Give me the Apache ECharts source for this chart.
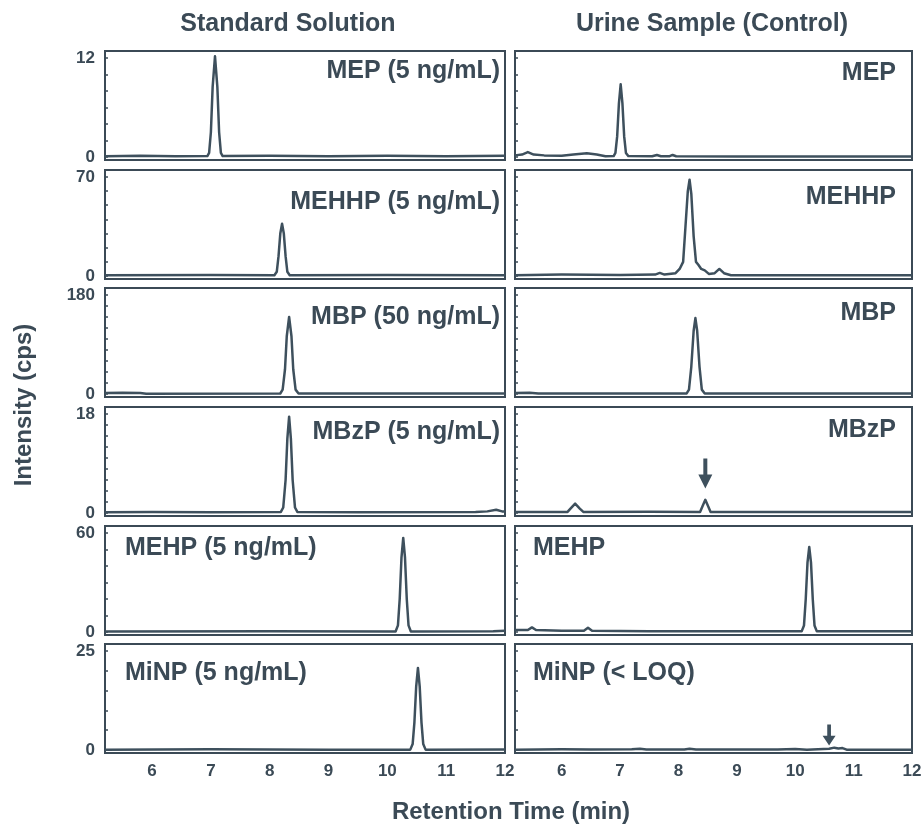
<!DOCTYPE html>
<html>
<head>
<meta charset="utf-8">
<script src="https://cdn.jsdelivr.net/npm/echarts@6/dist/echarts.min.js"></script>
<style>
  html, body { margin: 0; padding: 0; background: #fff; }
  #chart { width: 922px; height: 827px; }
</style>
</head>
<body>
<div id="chart"></div>
<script>
// retention time axis
const xTicks = [6, 7, 8, 9, 10, 11, 12]
const xMin = 5.2
const xMax = 12

// per row: full scale of intensity (cps) and minor tick step
const yMax = [12, 70, 180, 18, 60, 25]
const yTickStep = [2, 10, 20, 2, 10, 5]

const stdLabels = ['MEP (5 ng/mL)', 'MEHHP (5 ng/mL)', 'MBP (50 ng/mL)', 'MBzP (5 ng/mL)', 'MEHP (5 ng/mL)', 'MiNP (5 ng/mL)']
const urineLabels = ['MEP', 'MEHHP', 'MBP', 'MBzP', 'MEHP', 'MiNP (< LOQ)']

// chromatogram traces, [time (min), intensity (cps)]
const stdMEP = [[5.2, 0.1], [5.8, 0.15], [6.4, 0.1], [6.94, 0.12], [6.97, 0.5], [7.0, 3], [7.03, 8.5], [7.07, 12.2], [7.11, 8.5], [7.14, 3], [7.17, 0.5], [7.2, 0.12], [8.0, 0.15], [9.0, 0.1], [10.0, 0.15], [11.0, 0.1], [12, 0.15]]
const stdMEHHP = [[5.2, 0.5], [7.0, 0.7], [8.08, 0.6], [8.12, 3], [8.15, 14], [8.18, 30], [8.21, 37], [8.24, 30], [8.27, 14], [8.3, 3], [8.34, 0.6], [10.0, 0.7], [12, 0.6]]
const stdMBP = [[5.2, 2], [5.5, 2.5], [5.8, 2], [5.9, 0.6], [8.18, 1], [8.22, 8], [8.26, 45], [8.29, 105], [8.33, 140], [8.37, 105], [8.4, 45], [8.44, 8], [8.49, 1], [12, 1]]
const stdMBzP = [[5.2, 0.15], [6, 0.2], [7, 0.15], [8.19, 0.2], [8.23, 1], [8.27, 6], [8.3, 13.5], [8.33, 17.5], [8.36, 13.5], [8.39, 6], [8.43, 1], [8.47, 0.2], [9.5, 0.15], [11.5, 0.2], [11.7, 0.3], [11.85, 0.6], [11.95, 0.3], [12, 0.3]]
const stdMEHP = [[5.2, 0.3], [8.0, 0.4], [10.14, 0.3], [10.18, 4], [10.21, 20], [10.24, 45], [10.27, 57], [10.3, 45], [10.33, 20], [10.36, 4], [10.4, 0.3], [11.8, 0.5], [12, 0.8]]
const stdMiNP = [[5.2, 0.1], [7, 0.2], [9, 0.1], [10.39, 0.1], [10.43, 1.5], [10.46, 7], [10.49, 16], [10.52, 20.7], [10.55, 16], [10.58, 7], [10.61, 1.5], [10.65, 0.1], [12, 0.15]]

const urineMEP = [[5.2, 0.2], [5.32, 0.3], [5.42, 0.6], [5.52, 0.3], [5.7, 0.2], [6.0, 0.15], [6.2, 0.3], [6.43, 0.45], [6.6, 0.3], [6.75, 0.1], [6.89, 0.12], [6.92, 0.5], [6.95, 2.5], [6.98, 6.5], [7.01, 8.8], [7.04, 6.5], [7.07, 2.5], [7.1, 0.5], [7.14, 0.12], [7.55, 0.1], [7.63, 0.25], [7.7, 0.1], [7.85, 0.1], [7.9, 0.25], [7.96, 0.1], [9, 0.05], [12, 0.05]]
const urineMEHHP = [[5.2, 0.5], [6, 1], [7, 0.8], [7.6, 1], [7.68, 2.2], [7.76, 1], [7.95, 2], [8.02, 5], [8.08, 10], [8.12, 35], [8.16, 60], [8.19, 68], [8.22, 58], [8.26, 28], [8.3, 10], [8.34, 8], [8.39, 5], [8.45, 4], [8.52, 1.5], [8.62, 2], [8.7, 5], [8.78, 2], [8.9, 0.5], [12, 0.5]]
const urineMBP = [[5.2, 2], [5.45, 2.5], [5.6, 1], [8.14, 1], [8.18, 8], [8.22, 50], [8.26, 115], [8.29, 138], [8.32, 115], [8.36, 50], [8.4, 8], [8.45, 1], [12, 1]]
const urineMBzP = [[5.2, 0.2], [6.1, 0.2], [6.15, 0.8], [6.23, 1.7], [6.31, 0.8], [6.37, 0.2], [7.5, 0.25], [8.37, 0.2], [8.41, 1.2], [8.46, 2.4], [8.51, 1.2], [8.55, 0.2], [12, 0.2]]
const urineMEHP = [[5.2, 1.2], [5.42, 1.2], [5.49, 2.8], [5.56, 1.2], [6, 0.8], [6.38, 0.8], [6.45, 2.6], [6.52, 0.8], [7.5, 0.4], [10.11, 0.4], [10.15, 4], [10.18, 20], [10.21, 42], [10.24, 51.5], [10.27, 42], [10.3, 20], [10.33, 4], [10.37, 0.4], [12, 0.4]]
const urineMiNP = [[5.2, 0.1], [6, 0.2], [6.5, 0.15], [7.2, 0.2], [7.34, 0.35], [7.45, 0.15], [8.1, 0.15], [8.19, 0.35], [8.3, 0.12], [9.7, 0.15], [10.0, 0.25], [10.2, 0.1], [10.58, 0.3], [10.67, 0.6], [10.74, 0.4], [10.81, 0.5], [10.88, 0.1], [12, 0.1]]

// arrows in the urine column: [row, time, intensity]
const urineArrows = [[3, 8.46, 7.2], [5, 10.58, 3.8]]

const stdSeries = [stdMEP, stdMEHHP, stdMBP, stdMBzP, stdMEHP, stdMiNP]
const urineSeries = [urineMEP, urineMEHHP, urineMBP, urineMBzP, urineMEHP, urineMiNP]

const ink = '#3b4a56'
const lineColor = '#3e505d'
const font = '"Liberation Sans", Arial, sans-serif'

const rowTop = [51, 170, 288, 407, 526, 644]
const rowH = 109
const cols = [{ left: 105, width: 400 }, { left: 515, width: 397 }]
// label centre heights
const stdLabelY = [71, 202, 317, 432, 548, 673]
const urineLabelY = [73, 197, 313, 430, 548, 673]

const chart = echarts.init(document.getElementById('chart'))

const grid = []
const xAxis = []
const yAxis = []
const series = []
const graphic = []

cols.forEach((col, c) => {
    rowTop.forEach((top, r) => {
        const idx = grid.length
        grid.push({
            left: col.left,
            top: top,
            width: col.width,
            height: rowH,
            show: true,
            borderColor: ink,
            borderWidth: 2,
            backgroundColor: '#fff',
            outerBoundsMode: 'none'
        })
        const isBottom = r === rowTop.length - 1
        xAxis.push({
            type: 'value',
            gridIndex: idx,
            min: xMin,
            max: xMax,
            splitLine: { show: false },
            axisLine: { show: false },
            axisTick: { show: false },
            axisLabel: {
                show: isBottom,
                customValues: xTicks,
                color: ink,
                fontFamily: font,
                fontWeight: 'bold',
                fontSize: 17,
                margin: 10
            }
        })
        const ticks = []
        for (let v = 0; v <= yMax[r]; v += yTickStep[r]) ticks.push(v)
        yAxis.push({
            type: 'value',
            gridIndex: idx,
            min: -0.03 * yMax[r],
            max: 1.07 * yMax[r],
            splitLine: { show: false },
            axisLine: { show: false },
            axisTick: {
                show: true,
                inside: true,
                length: 3,
                customValues: ticks,
                lineStyle: { color: ink, width: 1.5 }
            },
            axisLabel: {
                show: c === 0,
                customValues: [0, yMax[r]],
                color: ink,
                fontFamily: font,
                fontWeight: 'bold',
                fontSize: 17,
                margin: 10
            }
        })
        const s = {
            type: 'line',
            xAxisIndex: idx,
            yAxisIndex: idx,
            data: c === 0 ? stdSeries[r] : urineSeries[r],
            showSymbol: false,
            silent: true,
            lineStyle: { color: lineColor, width: 2.5, join: 'round' },
            itemStyle: { color: lineColor }
        }
        if (c === 1) {
            const arrows = urineArrows.filter(a => a[0] === r)
            if (arrows.length) {
                s.markPoint = {
                    symbol: 'path://M5,0 L9,0 L9,14 L14,14 L7,26 L0,14 L5,14 Z',
                    symbolSize: r === 3 ? [14, 30] : [13, 21],
                    symbolKeepAspect: false,
                    itemStyle: { color: lineColor },
                    label: { show: false },
                    silent: true,
                    data: arrows.map(a => ({ coord: [a[1], a[2]] }))
                }
            }
        }
        series.push(s)

        // panel label
        const labels = c === 0 ? stdLabels : urineLabels
        const ys = c === 0 ? stdLabelY : urineLabelY
        const rightAligned = r < 4
        let x
        if (rightAligned) {
            x = c === 0 ? col.left + col.width - 5 : col.left + col.width - 16
        } else {
            x = c === 0 ? col.left + 20 : col.left + 18
        }
        graphic.push({
            type: 'text',
            x: x,
            y: ys[r],
            z: 100,
            style: {
                text: labels[r],
                fill: ink,
                font: 'bold 25px ' + font,
                align: rightAligned ? 'right' : 'left',
                verticalAlign: 'middle'
            }
        })
    })
})

graphic.push(
    {
        type: 'text', x: 288, y: 24,
        style: { text: 'Standard Solution', fill: ink, font: 'bold 25px ' + font, align: 'center', verticalAlign: 'middle' }
    },
    {
        type: 'text', x: 712, y: 24,
        style: { text: 'Urine Sample (Control)', fill: ink, font: 'bold 25px ' + font, align: 'center', verticalAlign: 'middle' }
    },
    {
        type: 'text', x: 511, y: 812,
        style: { text: 'Retention Time (min)', fill: ink, font: 'bold 24px ' + font, align: 'center', verticalAlign: 'middle' }
    },
    {
        type: 'text', x: 24, y: 405, rotation: Math.PI / 2,
        style: { text: 'Intensity (cps)', fill: ink, font: 'bold 24px ' + font, align: 'center', verticalAlign: 'middle' }
    }
)

chart.setOption({
    backgroundColor: '#fff',
    animation: false,
    grid: grid,
    xAxis: xAxis,
    yAxis: yAxis,
    series: series,
    graphic: graphic
})

window.addEventListener('resize', () => chart.resize())
</script>
</body>
</html>
